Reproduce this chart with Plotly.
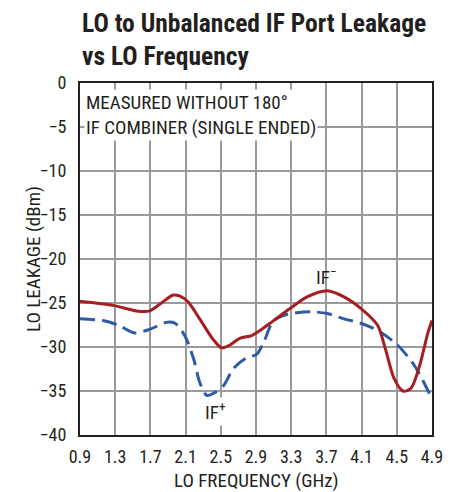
import plotly.graph_objects as go

freq_if_minus = [0.9, 1.29, 1.54, 1.69, 1.81, 1.96, 2.03, 2.13, 2.26, 2.41, 2.51, 2.60, 2.72, 2.85, 2.95, 3.10, 3.29, 3.48, 3.71, 3.90, 4.09, 4.28, 4.37, 4.47, 4.57, 4.66, 4.76, 4.85, 4.9]
leak_if_minus = [-24.8, -25.3, -25.9, -25.9, -25.1, -24.1, -24.2, -24.9, -26.8, -29.1, -30.1, -29.8, -29.0, -28.7, -28.1, -27.0, -25.6, -24.3, -23.6, -24.3, -25.6, -27.5, -30.2, -33.6, -35.0, -34.7, -32.1, -28.5, -27.0]

freq_if_plus = [0.9, 1.16, 1.33, 1.52, 1.69, 1.88, 1.98, 2.09, 2.19, 2.26, 2.34, 2.41, 2.53, 2.64, 2.78, 2.91, 2.99, 3.10, 3.25, 3.52, 3.71, 3.90, 4.09, 4.28, 4.51, 4.70, 4.9]
leak_if_plus = [-26.8, -27.0, -27.5, -28.4, -28.0, -27.2, -27.3, -28.7, -31.3, -34.0, -35.5, -35.3, -34.4, -32.5, -31.3, -30.8, -29.4, -27.0, -26.3, -26.0, -26.2, -26.8, -27.3, -28.1, -29.8, -32.1, -35.9]

x_ticks = [0.9, 1.3, 1.7, 2.1, 2.5, 2.9, 3.3, 3.7, 4.1, 4.5, 4.9]
y_ticks = [0, -5, -10, -15, -20, -25, -30, -35, -40]

FONT = "Liberation Sans Narrow, Roboto Condensed, Arial Narrow, Liberation Sans, sans-serif"
INK = "#231f20"

fig = go.Figure()
fig.add_trace(go.Scatter(x=freq_if_plus, y=leak_if_plus, mode="lines",
                         line=dict(color="#2e5aa8", width=3, dash="15px,7px", shape="spline", smoothing=0.8),
                         showlegend=False))
fig.add_trace(go.Scatter(x=freq_if_minus, y=leak_if_minus, mode="lines",
                         line=dict(color="#a51e22", width=3, shape="spline", smoothing=0.8),
                         showlegend=False))

fig.update_layout(
    width=448, height=484,
    margin=dict(l=72, r=24, t=75, b=57),
    paper_bgcolor="white", plot_bgcolor="white",
    font=dict(family=FONT, size=18, color=INK),
    xaxis=dict(range=[0.9, 4.9], tickvals=x_ticks, ticktext=[f"{v:.1f}" for v in x_ticks],
               showgrid=True, gridcolor="#9a9a9a", gridwidth=1.5, zeroline=False,
               showline=True, linecolor=INK, linewidth=2, mirror=True, ticks="",
               ticklabelstandoff=4, automargin=False,
               tickfont=dict(size=18)),
    yaxis=dict(range=[-40, 0], tickvals=y_ticks, ticktext=[("\u2212" + str(-v)) if v < 0 else "0" for v in y_ticks],
               showgrid=True, gridcolor="#9a9a9a", gridwidth=1.5, zeroline=False,
               showline=True, linecolor=INK, linewidth=2, mirror=True, ticks="",
               ticklabelstandoff=8, automargin=False,
               tickfont=dict(size=18)),
    annotations=[
        dict(text="<b>LO to Unbalanced IF Port Leakage<br>vs LO Frequency</b>", xref="paper", yref="paper",
             x=0, y=1, xshift=0, yshift=77, xanchor="left", yanchor="top", align="left", showarrow=False,
             font=dict(size=25.5, family=FONT, color=INK)),
        dict(text="LO FREQUENCY (GHz)", xref="paper", yref="paper", x=0.5, y=0, yshift=-45,
             xanchor="center", yanchor="middle", showarrow=False, font=dict(size=19, family=FONT, color=INK)),
        dict(text="LO LEAKAGE (dBm)", xref="paper", yref="paper", x=0, y=0.5, xshift=-47, textangle=-90,
             xanchor="center", yanchor="middle", showarrow=False, font=dict(size=19, family=FONT, color=INK)),
        dict(text="MEASURED WITHOUT 180°<br>IF COMBINER (SINGLE ENDED)", xref="x", yref="y",
             x=0.94, y=-0.7, xanchor="left", yanchor="top", align="left", showarrow=False,
             bgcolor="white", borderpad=1, font=dict(size=19, family=FONT, color=INK)),
        dict(text="IF<sup>\u2212</sup>", xref="x", yref="y", x=3.70, y=-22.0, xanchor="center", yanchor="middle",
             showarrow=False, font=dict(size=19, family=FONT, color=INK)),
        dict(text="IF<sup>+</sup>", xref="x", yref="y", x=2.44, y=-37.3, xanchor="center", yanchor="middle",
             showarrow=False, bgcolor="white", font=dict(size=19, family=FONT, color=INK)),
        dict(text="5577 G11", xref="paper", yref="paper", x=1, y=0, yshift=-58, xshift=8,
             xanchor="right", yanchor="top", showarrow=False, font=dict(size=10, family=FONT, color=INK)),
    ],
)

fig.write_html("out.html")
